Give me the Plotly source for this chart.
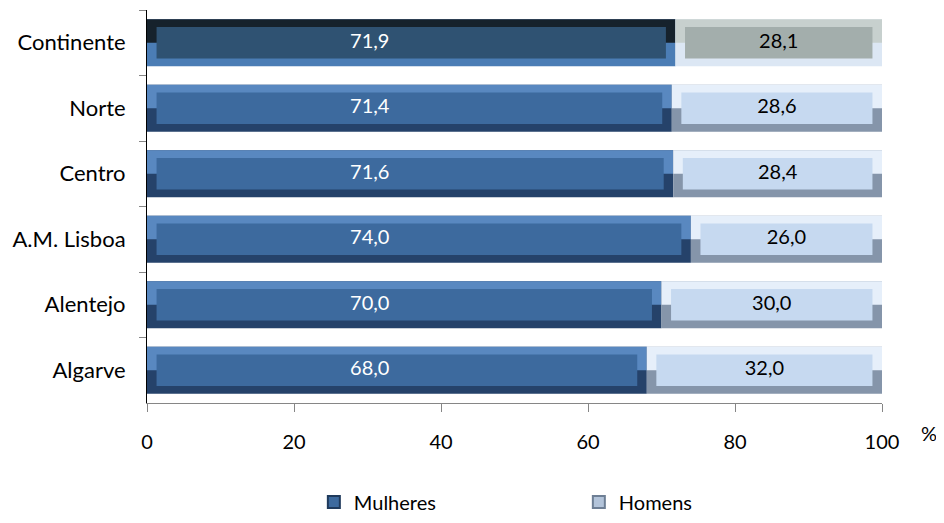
import plotly.graph_objects as go

categories = ["Continente", "Norte", "Centro", "A.M. Lisboa", "Alentejo", "Algarve"]
mulheres = [71.9, 71.4, 71.6, 74.0, 70.0, 68.0]
homens = [28.1, 28.6, 28.4, 26.0, 30.0, 32.0]
x_ticks = [0, 20, 40, 60, 80, 100]

FONT = "Lato"
fmt = lambda v: f"{v:.1f}".replace(".", ",")

# style: per-point colours (first = Continente, highlighted)
n = len(categories)
m_dark = ["#4B7DB5"] + ["#25426A"] * (n - 1)
m_light = ["#16222C"] + ["#5988C0"] * (n - 1)
m_face = ["#2F5272"] + ["#3D6A9E"] * (n - 1)
h_dark = ["#DCE7F4"] + ["#8595AA"] * (n - 1)
h_light = ["#C7D0CE"] + ["#E6EFFA"] * (n - 1)
h_face = ["#A3AEAC"] + ["#C6D9F0"] * (n - 1)

BAR_W = 0.72
FACE_W = 0.48
INSET = 1.3

fig = go.Figure()

def seg(base, length, dark, light, face, name, legend_color, legend_line):
    fig.add_trace(go.Bar(y=categories, x=length, base=base, orientation="h",
                         width=BAR_W, marker=dict(color=dark, line=dict(width=0)),
                         showlegend=False, hoverinfo="skip"))
    fig.add_trace(go.Bar(y=categories, x=length, base=base, orientation="h",
                         width=BAR_W / 2, offset=-BAR_W / 2,
                         marker=dict(color=light, line=dict(width=0)),
                         showlegend=False, hoverinfo="skip"))
    fig.add_trace(go.Bar(y=categories, x=[l - 2 * INSET for l in length],
                         base=[b + INSET for b in base], orientation="h",
                         width=FACE_W, offset=-FACE_W / 2,
                         marker=dict(color=face, line=dict(width=0)),
                         showlegend=False, hoverinfo="skip"))
    fig.add_trace(go.Bar(y=[None], x=[None], orientation="h", name=name,
                         marker=dict(color=legend_color, line=dict(color=legend_line, width=1.5)),
                         showlegend=True))

seg([0] * n, mulheres, m_dark, m_light, m_face, "Mulheres", "#3D6A9E", "#1F3A5C")
seg(mulheres, homens, h_dark, h_light, h_face, "Homens", "#B3C4DA", "#6E7F95")

# data labels
M_LABEL_X = 30.3
fig.add_trace(go.Scatter(y=categories, x=[M_LABEL_X] * n, mode="text",
                         text=[fmt(v) for v in mulheres],
                         textfont=dict(family=FONT, size=20, color="white"),
                         showlegend=False, hoverinfo="skip"))
fig.add_trace(go.Scatter(y=categories, x=[m + h / 2 for m, h in zip(mulheres, homens)],
                         mode="text", text=[fmt(v) for v in homens],
                         textfont=dict(family=FONT, size=20, color="black"),
                         showlegend=False, hoverinfo="skip"))

fig.update_layout(
    width=936, height=515,
    margin=dict(l=139, r=62, t=2, b=108),
    paper_bgcolor="white", plot_bgcolor="white",
    barmode="overlay",
    font=dict(family=FONT, size=20, color="black"),
    showlegend=True,
    legend=dict(orientation="h", x=0.227, xanchor="left", y=-0.252, yanchor="middle",
                entrywidth=220, entrywidthmode="pixels",
                font=dict(family=FONT, size=20, color="black"),
                itemsizing="constant", traceorder="normal"),
    annotations=[dict(text="%", x=1.064, y=-0.076, xref="paper", yref="paper",
                      xanchor="center", yanchor="middle",
                      showarrow=False, font=dict(family=FONT, size=20, color="black"))],
)
fig.update_xaxes(range=[0, 100], tickvals=x_ticks, ticktext=[str(t) for t in x_ticks],
                 showgrid=False, zeroline=False, showline=True, linecolor="#868686",
                 linewidth=1, ticks="outside", ticklen=8, tickcolor="#868686",
                 ticklabelstandoff=13, fixedrange=True, automargin=False)
fig.update_yaxes(categoryorder="array", categoryarray=categories, autorange="reversed",
                 showgrid=False, zeroline=False, showline=True, linecolor="black",
                 linewidth=1, ticks="outside", ticklen=7, tickcolor="#868686",
                 tickson="boundaries", ticklabelstandoff=16, fixedrange=True,
                 tickfont=dict(family=FONT, size=22), automargin=False)

fig.write_html("out.html")
